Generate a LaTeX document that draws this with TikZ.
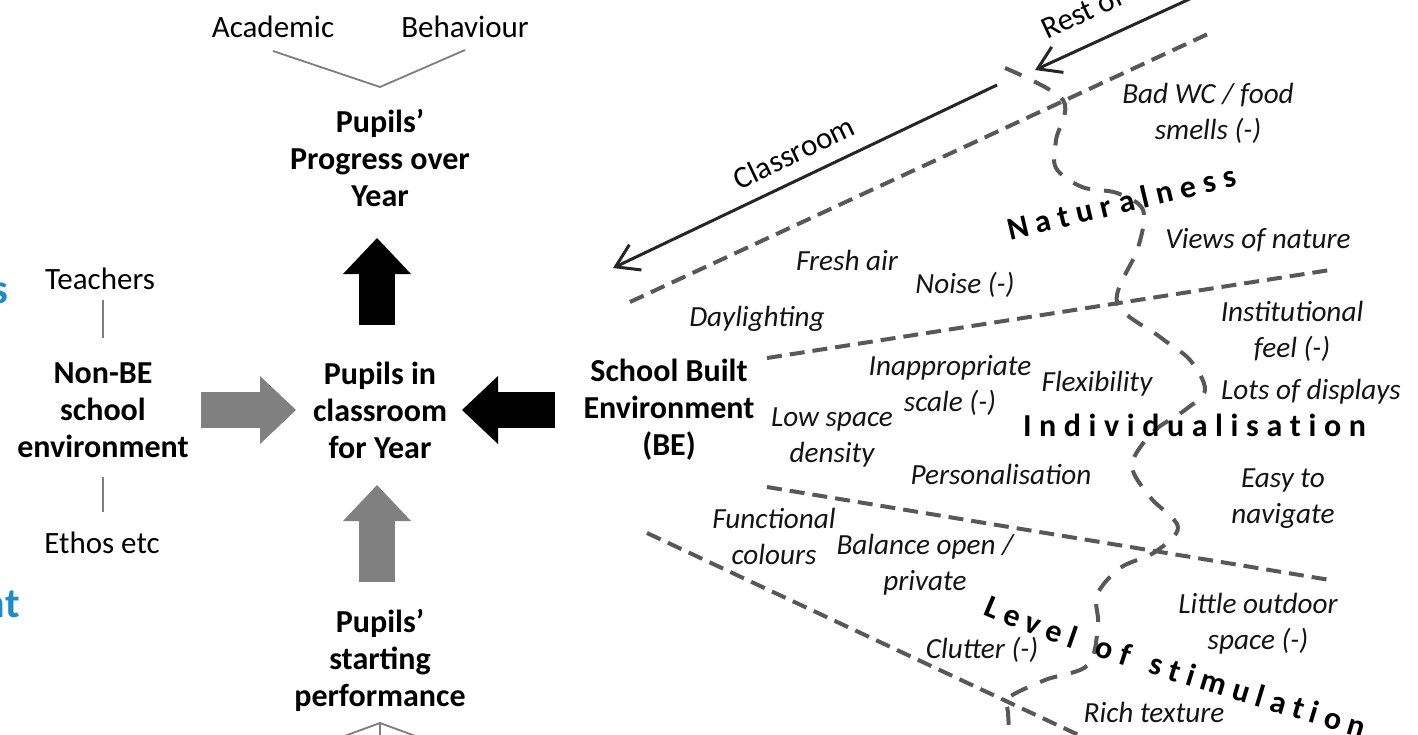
\documentclass[tikz,border=0pt]{standalone}
\usepackage{fontspec}
\setmainfont{Carlito}
\usetikzlibrary{arrows.meta,decorations.text}
\definecolor{dashgray}{RGB}{88,88,88}
\definecolor{arrgray}{RGB}{128,128,128}
\definecolor{lightline}{RGB}{125,125,125}
\definecolor{fragblue}{RGB}{30,140,200}
\begin{document}
\begin{tikzpicture}[x=0.5pt,y=-0.5pt,
  boldtxt/.style={font=\fontsize{16}{18.5}\selectfont\bfseries, align=center, inner sep=0pt},
  regtxt/.style={font=\fontsize{15.5}{18.5}\selectfont, align=center, inner sep=0pt},
  itxt/.style={font=\fontsize{14.6}{18}\selectfont\itshape, align=center, inner sep=0pt, text=black!92},
  fragtxt/.style={font=\fontsize{21}{21}\selectfont\bfseries, text=fragblue, inner sep=0pt, anchor=base east},
  thinline/.style={draw=lightline, line width=0.9pt},
  fanline/.style={draw=dashgray, line width=2pt, dash pattern=on 7.5pt off 4pt},
  waveline/.style={draw=dashgray, line width=2pt, dash pattern=on 9pt off 7pt},
  blockarrow/.style={line width=18pt, -{Triangle[length=18pt, width=34pt, line width=0pt]}},
  pointer/.style={draw=black!85, line width=1.5pt},
  spaced/.style={decorate, decoration={text along path, text align={fit to path}, text={|\fontsize{16}{16}\selectfont\bfseries|#1}}}
]
\useasboundingbox (0,0) rectangle (1418,734);
\fill[white] (0,0) rectangle (1418,734);
\clip (0,0) rectangle (1418,734);

% ---- left column ----
\node[fragtxt] (fs) at (9,303) {s};
\node[fragtxt] (fnt) at (20,617) {nt};

\node[regtxt] (acad) at (273,27) {Academic};
\node[regtxt] (behav) at (465,27) {Behaviour};
\coordinate (vl) at (273,51);
\coordinate (vr) at (465,50);
\coordinate (vtop) at (380,87);
\draw[thinline] (vl) -- (vtop) -- (vr);

\node[boldtxt] (prog) at (380,158) {Pupils’\\Progress over\\Year};
\node[boldtxt] (cls) at (380,410) {Pupils in\\classroom\\for Year};
\node[boldtxt] (start) at (380,660) {Pupils’\\starting\\performance};
\node[boldtxt] (nonbe) at (103,410) {Non-BE\\school\\environment};
\node[regtxt] (teach) at (100,279) {Teachers};
\node[regtxt] (ethos) at (102,543) {Ethos etc};
\node[boldtxt] (sbe) at (669,410) {School Built\\Environment\\(BE)};

\coordinate (t1) at (103,300); \coordinate (t2) at (103,338);
\draw[thinline] (t1) -- (t2);
\coordinate (e1) at (103,477); \coordinate (e2) at (103,512);
\draw[thinline] (e1) -- (e2);

\coordinate (bapex) at (380,723);
\coordinate (bl) at (320,745);
\coordinate (br) at (440,745);
\coordinate (bv) at (380,745);
\draw[thinline] (bl) -- (bapex) -- (br);
\draw[thinline] (bapex) -- (bv);

% block arrows
\coordinate (pa1) at (377,325); \coordinate (pa2) at (377,238);
\draw[blockarrow, black] (pa1) -- (pa2);
\coordinate (ga1) at (201,410); \coordinate (ga2) at (296,410);
\draw[blockarrow, arrgray] (ga1) -- (ga2);
\coordinate (ba1) at (555,410); \coordinate (ba2) at (462,410);
\draw[blockarrow, black] (ba1) -- (ba2);
\coordinate (ua1) at (377,582); \coordinate (ua2) at (377,485);
\draw[blockarrow, arrgray] (ua1) -- (ua2);

% ---- right part ----
\coordinate (ctip) at (613,268); \coordinate (cend) at (997,85);
\draw[pointer, {Straight Barb[length=11pt,width=14pt]}-] (ctip) -- (cend)
  node[regtxt, midway, above=7pt, sloped] (clab) {Classroom};
\coordinate (rtip) at (1035,70); \coordinate (rend) at (1231,-20);
\draw[pointer, {Straight Barb[length=11pt,width=14pt]}-] (rtip) -- (rend);
\node[regtxt, rotate=25, anchor=base west] (rlab) at (1047,40) {Rest of};

\coordinate (f1a) at (630,302); \coordinate (f1b) at (1210,33);
\coordinate (f2a) at (767,358); \coordinate (f2b) at (1330,270);
\coordinate (f3a) at (767,487); \coordinate (f3b) at (1330,580);
\coordinate (f4a) at (647,533); \coordinate (f4b) at (1100,745);
\draw[fanline] (f1a) -- (f1b);
\draw[fanline] (f2a) -- (f2b);
\draw[fanline] (f3a) -- (f3b);
\draw[fanline] (f4a) -- (f4b);

\draw[waveline] plot[smooth, tension=0.55] coordinates {
 (1005,68) (1063,100) (1056,140) (1056,168) (1082,187) (1117,193) (1143,210)
 (1138,248) (1117,302) (1160,337) (1190,360) (1205,390) (1185,410) (1153,432)
 (1132,465) (1150,497) (1178,527) (1155,552) (1120,568) (1097,595) (1098,625)
 (1088,665) (1045,680) (1008,698) (1008,712) (1010,745)};

% italic labels
\node[itxt] (badwc) at (1208,113) {Bad WC / food\\smells (-)};
\node[itxt] (fresh) at (847,260) {Fresh air};
\node[itxt] (noise) at (965,285) {Noise (-)};
\node[itxt] (views) at (1258,240) {Views of nature};
\node[itxt] (day) at (757,319) {Daylighting};
\node[itxt] (inst) at (1292,331) {Institutional\\feel (-)};
\node[itxt] (inapp) at (950,385) {Inappropriate\\scale (-)};
\node[itxt] (flex) at (1097,384) {Flexibility};
\node[itxt] (lots) at (1311,392) {Lots of displays};
\node[itxt] (lowsp) at (832,437) {Low space\\density};
\node[itxt] (pers) at (1001,474) {Personalisation};
\node[itxt] (easy) at (1283,499) {Easy to\\navigate};
\node[itxt] (func) at (774,536) {Functional\\colours};
\node[itxt] (bal) at (925,565) {Balance open /\\private};
\node[itxt] (little) at (1258,624) {Little outdoor\\space (-)};
\node[itxt] (clut) at (982,650) {Clutter (-)};
\node[itxt] (rich) at (1154,712) {Rich texture};

% spaced bold category labels
\path[spaced={Naturalness}] (1010,240) -- (1238,186);
\path[spaced={Individualisation}] (1023,436) -- (1366,436);
\path[spaced={Level of stimulation}] (982,614) .. controls (1060,648) and (1200,690) .. (1362,738);
\end{tikzpicture}
\end{document}
